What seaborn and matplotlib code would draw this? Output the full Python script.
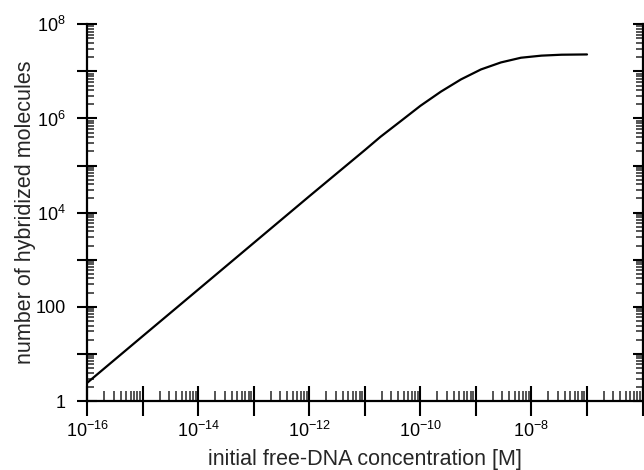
import numpy as np
import pandas as pd
import matplotlib
matplotlib.use("Agg")
import matplotlib.pyplot as plt
import matplotlib.ticker as mticker
import seaborn as sns

# data
concentration = [1e-16, 1e-15, 1e-14, 1e-13, 1e-12, 1e-11, 1.9e-11, 4.37e-11,
                 1e-10, 2.34e-10, 5.37e-10, 1.23e-9, 2.82e-9, 6.46e-9,
                 1.51e-8, 3.47e-8, 1.0e-7]
molecules = [2.45, 24.0, 234, 2290, 2.24e4, 2.14e5, 4.07e5, 8.7e5,
             1.86e6, 3.72e6, 6.76e6, 1.10e7, 1.55e7, 1.95e7,
             2.16e7, 2.26e7, 2.29e7]
x_label = "initial free-DNA concentration [M]"
y_label = "number of hybridized molecules"

df = pd.DataFrame({"c": concentration, "n": molecules})

sns.set_style("ticks")
plt.rcParams["font.family"] = ["Liberation Sans", "DejaVu Sans"]
plt.rcParams["mathtext.fontset"] = "custom"
plt.rcParams["mathtext.rm"] = "Liberation Sans"
plt.rcParams["mathtext.it"] = "Liberation Sans:italic"
plt.rcParams["mathtext.bf"] = "Liberation Sans:bold"

fig = plt.figure(figsize=(6.44, 4.70), dpi=100)
ax = fig.add_axes([0.1356, 0.1468, 0.9977 - 0.1356, 0.9483 - 0.1468])

sns.lineplot(data=df, x="c", y="n", ax=ax, color="black", linewidth=1.6,
             estimator=None, sort=False)

ax.set_xscale("log")
ax.set_yscale("log")
ax.set_xlim(1e-16, 1e-6)
ax.set_ylim(1, 1e8)

ax.xaxis.set_major_locator(mticker.LogLocator(base=10, numticks=20))
ax.yaxis.set_major_locator(mticker.LogLocator(base=10, numticks=20))
ax.xaxis.set_minor_locator(mticker.LogLocator(base=10, subs=np.arange(2, 10), numticks=20))
ax.yaxis.set_minor_locator(mticker.LogLocator(base=10, subs=np.arange(2, 10), numticks=20))


def xfmt(v, pos):
    e = int(round(np.log10(v)))
    if e % 2 == 0 and e < -6:
        return r"$10^{%d}$" % e
    return ""


def yfmt(v, pos):
    e = int(round(np.log10(v)))
    if e % 2 != 0:
        return ""
    if e == 0:
        return "1"
    if e == 2:
        return "100"
    return r"$10^{%d}$" % e


ax.xaxis.set_major_formatter(mticker.FuncFormatter(xfmt))
ax.yaxis.set_major_formatter(mticker.FuncFormatter(yfmt))

for s in ["left", "bottom", "right"]:
    ax.spines[s].set_linewidth(1.6)
    ax.spines[s].set_color("black")
ax.spines["top"].set_visible(False)

ax.tick_params(axis="x", which="major", direction="inout", length=22, width=1.5,
               labelsize=13, pad=3, colors="black", top=False)
ax.tick_params(axis="x", which="minor", direction="in", length=7, width=1.1, top=False)
ax.tick_params(axis="y", which="major", direction="inout", length=15, width=1.5,
               labelsize=13, pad=8, colors="black", left=True, right=True)
ax.tick_params(axis="y", which="minor", direction="in", length=5, width=1.1,
               left=True, right=True)

ax.set_xlabel(x_label, fontsize=15.5, labelpad=6)
ax.set_ylabel(y_label, fontsize=15.5, labelpad=0)

fig.savefig("out.png", dpi=100)
